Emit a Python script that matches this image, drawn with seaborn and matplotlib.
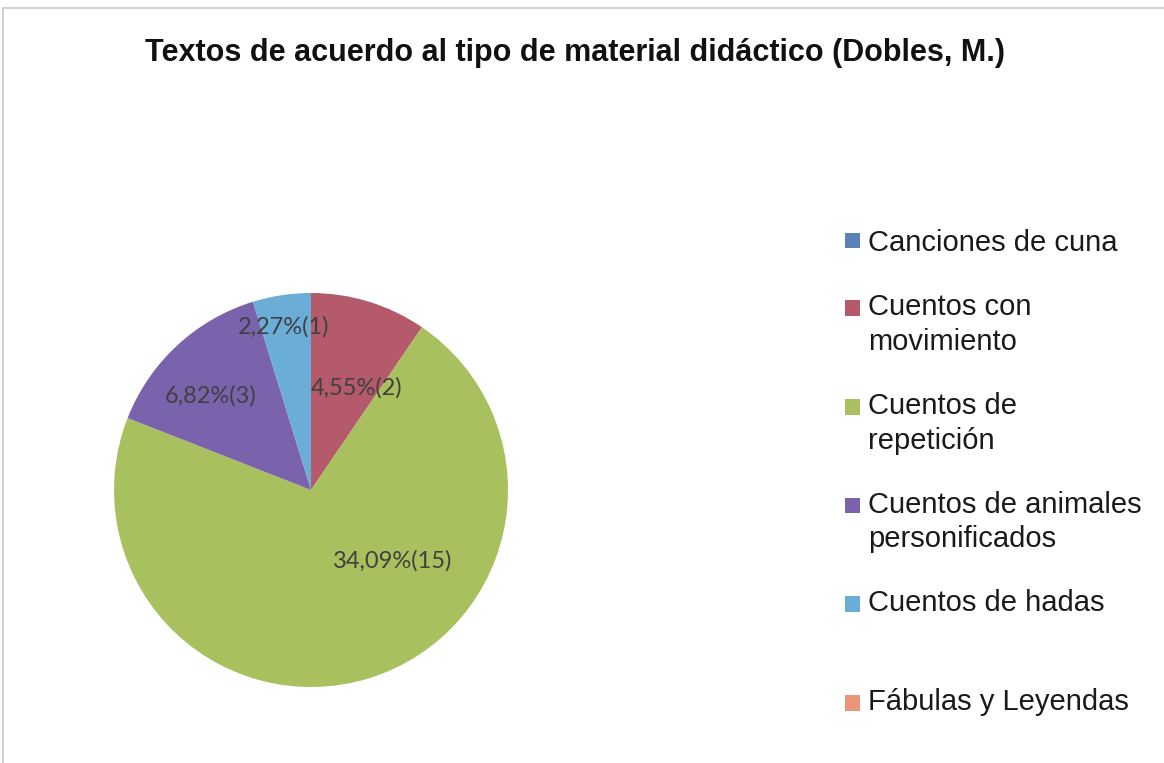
import matplotlib.pyplot as plt
import seaborn as sns
import numpy as np
from matplotlib.patches import Patch, Rectangle
from matplotlib.legend_handler import HandlerPatch

# Data
categories = ["Canciones de cuna", "Cuentos con movimiento", "Cuentos de repetición",
              "Cuentos de animales personificados", "Cuentos de hadas", "Fábulas y Leyendas"]
legend_labels = ["Canciones de cuna", "Cuentos con\nmovimiento", "Cuentos de\nrepetición",
                 "Cuentos de animales\npersonificados", "Cuentos de hadas\n", "Fábulas y Leyendas\n"]
counts = [0, 2, 15, 3, 1, 0]
percents = [0.00, 4.55, 34.09, 6.82, 2.27, 0.00]

colors = ["#5b82b8", "#b45a6a", "#a8c15e", "#7a62ad", "#6aaed8", "#ea9577"]

sns.set_theme(style="white")
plt.rcParams['font.family'] = ['Liberation Sans', 'DejaVu Sans']
palette = sns.color_palette(colors)

W, H = 1164, 763
fig = plt.figure(figsize=(W / 100, H / 100), dpi=100)

# outer chart frame
fig.patches.append(Rectangle((3 / W, -0.01), 1.02, (H - 8) / H + 0.01,
                             transform=fig.transFigure, fill=False,
                             edgecolor="#c8c8c8", linewidth=1.2))

cx, cy, r = 311, 490, 197
ax = fig.add_axes([(cx - r) / W, (H - cy - r) / H, 2 * r / W, 2 * r / H])
wedges, _ = ax.pie(counts, colors=palette, startangle=90, counterclock=False,
                   radius=1.0, wedgeprops=dict(linewidth=0))
ax.set_xlim(-1, 1)
ax.set_ylim(-1, 1)
ax.set_aspect("equal")

# data labels (distance from centre and angle shift, in the style of "best fit")
label_dist = [0, 0.57, 0.55, 0.70, 0.84, 0]
label_shift = [0, -7, 32, 4, 1, 0]
for w, c, p, d, s in zip(wedges, counts, percents, label_dist, label_shift):
    if c == 0:
        continue
    ang = np.deg2rad((w.theta1 + w.theta2) / 2 + s)
    txt = f"{p:.2f}".replace(".", ",") + f"%({c})"
    ax.text(d * np.cos(ang), d * np.sin(ang), txt, ha="center", va="center",
            fontsize=17, color="#404040", family=["Lato", "DejaVu Sans"])


# legend squares sit on the first text line, as in Excel
def first_line_square(legend, orig_handle, xdescent, ydescent, width, height, fontsize):
    return Rectangle((-xdescent, -ydescent + 12.3), width, height)


handles = [Patch(facecolor=col, edgecolor="none") for col in palette]
hmap = {h: HandlerPatch(patch_func=first_line_square) for h in handles[1:]}
leg = fig.legend(handles, legend_labels, loc="upper left",
                 bbox_to_anchor=(845 / W, 1 - 229 / H), frameon=False,
                 fontsize=21, borderpad=0, borderaxespad=0, handlelength=0.5,
                 handleheight=0.45, handletextpad=0.3, labelspacing=1.24,
                 labelcolor="#1a1a1a", handler_map=hmap)
for t in leg.get_texts():
    t.set_linespacing(1.3)

fig.text(575 / W, 1 - 53 / H, "Textos de acuerdo al tipo de material didáctico (Dobles, M.)",
         ha="center", va="center", fontsize=22, fontweight="bold", color="#111111")

fig.savefig("out.png", dpi=100)
